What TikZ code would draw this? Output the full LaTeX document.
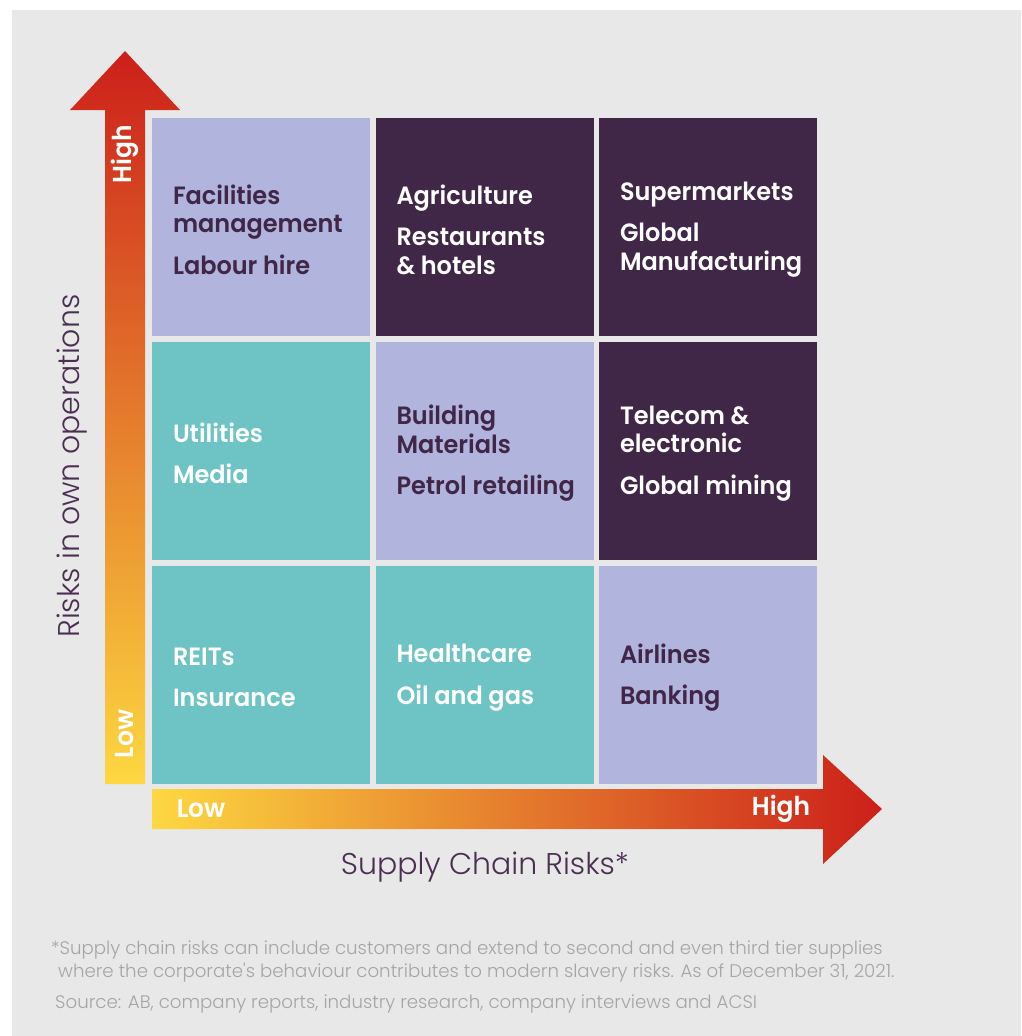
\documentclass[tikz,border=0pt]{standalone}
\usepackage{fontspec}
\setmainfont{Poppins}
\newfontfamily\cellfont{Poppins}[UprightFont=* SemiBold,FakeStretch=0.96]
\newfontfamily\axisfont{Poppins}[UprightFont=* Light]
\newfontfamily\notefont{Poppins}[UprightFont=* Light]
\usetikzlibrary{positioning}
\definecolor{bggray}{HTML}{E8E8E8}
\definecolor{lav}{HTML}{B1B4DC}
\definecolor{plum}{HTML}{412747}
\definecolor{tealc}{HTML}{6EC4C4}
\definecolor{axistext}{HTML}{4B2F52}
\definecolor{notegray}{HTML}{A5A5A5}
\definecolor{ayellow}{HTML}{FDD840}
\definecolor{aorange}{HTML}{E8892B}
\definecolor{ared}{HTML}{CC1F1A}
\tikzset{
  cell/.style={rectangle,inner sep=0pt,minimum width=218pt,minimum height=218pt},
  lbl/.style={anchor=west,align=left,inner sep=0pt,xshift=21pt,yshift=-3pt,
    font=\cellfont\fontsize{25}{28.5}\selectfont},
  arrowlbl/.style={inner sep=0pt,text=white,font=\cellfont\fontsize{26}{30}\selectfont},
  axislbl/.style={inner sep=0pt,text=axistext,font=\axisfont\fontsize{30}{36}\selectfont},
  notelbl/.style={anchor=base west,inner sep=0pt,text=notegray,font=\notefont\fontsize{18.2}{22}\selectfont}
}
\begin{document}
\begin{tikzpicture}[x=1pt,y=-1pt]
  \useasboundingbox[fill=white] (0,0) rectangle (1021,1036);
  \fill[bggray] (12,10) rectangle (1021,1036);

  \shade[top color=ared,middle color=aorange,bottom color=ayellow]
    (105,784) -- (105,110) -- (70,110) -- (125,51) -- (180,110) -- (145,110) -- (145,784) -- cycle;
  \shade[left color=ayellow,middle color=aorange,right color=ared]
    (152,789) -- (823,789) -- (823,755) -- (882,809) -- (823,864) -- (823,829) -- (152,829) -- cycle;

  \node[cell,fill=lav] (c11) at (261,226.5) {};
  \node[cell,fill=plum] (c12) at (484.5,226.5) {};
  \node[cell,fill=plum] (c13) at (708,226.5) {};
  \node[cell,fill=tealc] (c21) at (261,450.5) {};
  \node[cell,fill=lav] (c22) at (484.5,450.5) {};
  \node[cell,fill=plum] (c23) at (708,450.5) {};
  \node[cell,fill=tealc] (c31) at (261,674.5) {};
  \node[cell,fill=tealc] (c32) at (484.5,674.5) {};
  \node[cell,fill=lav] (c33) at (708,674.5) {};

  \node[lbl,text=plum] (t11) at (c11.west) {Facilities\\management\\[13pt]Labour hire};
  \node[lbl,text=white] (t12) at (c12.west) {Agriculture\\[13pt]Restaurants\\\& hotels};
  \node[lbl,text=white] (t13) at (c13.west) {Supermarkets\\[13pt]Global\\Manufacturing};
  \node[lbl,text=white] (t21) at (c21.west) {Utilities\\[13pt]Media};
  \node[lbl,text=plum] (t22) at (c22.west) {Building\\Materials\\[13pt]Petrol retailing};
  \node[lbl,text=white] (t23) at (c23.west) {Telecom \&\\electronic\\[13pt]Global mining};
  \node[lbl,text=white] (t31) at (c31.west) {REITs\\[13pt]Insurance};
  \node[lbl,text=white] (t32) at (c32.west) {Healthcare\\[13pt]Oil and gas};
  \node[lbl,text=plum] (t33) at (c33.west) {Airlines\\[13pt]Banking};

  \node[arrowlbl,rotate=90] (yhigh) at (125,154) {High};
  \node[arrowlbl,rotate=90] (ylow) at (125,734) {Low};
  \node[arrowlbl] (xlow) at (201,809) {Low};
  \node[arrowlbl] (xhigh) at (781,809) {High};

  \node[axislbl,rotate=90] (yaxis) at (72,466) {Risks in own operations};
  \node[axislbl] (xaxis) at (485,867) {Supply Chain Risks*};

  \node[notelbl] (note1) at (51,954) {*Supply chain risks can include customers and extend to second and even third tier supplies};
  \node[notelbl] (note2) at (58,977) {where the corporate's behaviour contributes to modern slavery risks. As of December 31, 2021.};
  \node[notelbl] (note3) at (55,1008) {Source: AB, company reports, industry research, company interviews and ACSI};
\end{tikzpicture}
\end{document}
